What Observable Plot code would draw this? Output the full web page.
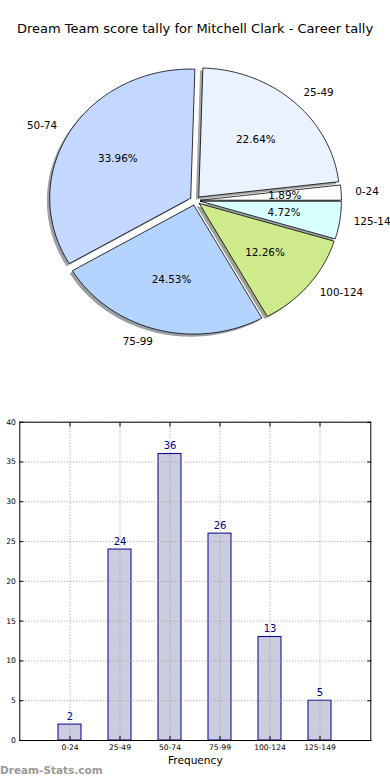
<!DOCTYPE html>
<html><head><meta charset="utf-8">
<script src="https://cdn.jsdelivr.net/npm/d3@7"></script>
<script src="https://cdn.jsdelivr.net/npm/@observablehq/plot@0.6"></script>
<style>
body{margin:0;background:#fff;font-family:"DejaVu Sans",sans-serif;}
#wrap{position:relative;width:390px;height:780px;overflow:hidden;background:#fff;}
#title{position:absolute;top:21px;left:0;width:390px;text-align:center;font-size:13px;color:#000;white-space:nowrap;}
#pie{position:absolute;top:50px;left:0;}
#bar{position:absolute;top:410px;left:0;}
#wm{position:absolute;left:0;top:764px;font-size:10.5px;font-weight:bold;color:#999;white-space:nowrap;}
svg{overflow:visible;}
</style></head><body>
<div id="wrap">
<div id="title">Dream Team score tally for Mitchell Clark - Career tally</div>
<div id="pie"></div>
<div id="bar"></div>
<div id="wm">Dream-Stats.com</div>
</div>
<script>
const categories = ["0-24","25-49","50-74","75-99","100-124","125-149"];
const counts = [2,24,36,26,13,5];
const sliceColors = ["#ffffff","#eaf2ff","#c4d8ff","#b4d4ff","#cfea8b","#daffff"];
const yTicks = [0,5,10,15,20,25,30,35,40];
const xLabel = "Frequency";

const explode = 0.037;
const total = d3.sum(counts);
let acc = 0;
const slices = categories.map((c, i) => {
  const a0 = acc / total * 2 * Math.PI;
  acc += counts[i];
  const a1 = acc / total * 2 * Math.PI;
  const m = (a0 + a1) / 2;
  return {cat: c, i, a0, a1, m, ox: explode * Math.cos(m), oy: explode * Math.sin(m),
          pct: (100 * counts[i] / total).toFixed(2) + "%"};
});
function wedgePoints(s, dx = 0, dy = 0) {
  const n = Math.max(2, Math.ceil((s.a1 - s.a0) / (Math.PI / 180)));
  const cx = s.ox + dx, cy = s.oy + dy;
  const pts = [{x: cx, y: cy}];
  for (let k = 0; k <= n; k++) {
    const a = s.a0 + (s.a1 - s.a0) * k / n;
    pts.push({x: cx + Math.cos(a), y: cy + Math.sin(a)});
  }
  pts.push({x: cx, y: cy});
  return pts;
}
const shadowMarks = slices.map(s => {
  const c = d3.rgb(sliceColors[s.i]);
  return Plot.line(wedgePoints(s, -0.02, -0.02), {x: "x", y: "y", curve: "linear",
    fill: d3.rgb(c.r * 0.3, c.g * 0.3, c.b * 0.3).formatHex(), fillOpacity: 0.5, stroke: "none"});
});
const wedgeMarks = slices.map(s =>
  Plot.line(wedgePoints(s), {x: "x", y: "y", curve: "linear", fill: sliceColors[s.i],
    stroke: "black", strokeWidth: 0.8, strokeLinejoin: "miter"}));
const labelData = slices.map(s => ({cat: s.cat, x: s.ox + 1.1 * Math.cos(s.m), y: s.oy + 1.1 * Math.sin(s.m), right: Math.cos(s.m) > 0}));
const pctData = slices.map(s => ({pct: s.pct, x: s.ox + 0.6 * Math.cos(s.m), y: s.oy + 0.6 * Math.sin(s.m)}));

const pie = Plot.plot({
  width: 390, height: 320, margin: 0,
  style: {fontFamily: "DejaVu Sans", background: "transparent", overflow: "visible"},
  x: {domain: [-194.7 / 141, 195.3 / 141], axis: null},
  y: {domain: [-170 / 129, 150 / 129], axis: null},
  marks: [
    ...shadowMarks,
    ...wedgeMarks,
    Plot.text(labelData.filter(d => d.right), {x: "x", y: "y", text: "cat", textAnchor: "start", fontSize: 10.4, fill: "black"}),
    Plot.text(labelData.filter(d => !d.right), {x: "x", y: "y", text: "cat", textAnchor: "end", fontSize: 10.4, fill: "black"}),
    Plot.text(pctData, {x: "x", y: "y", text: "pct", fontSize: 10.4, fill: "black"})
  ]
});
document.getElementById("pie").append(pie);

const barData = categories.map((c, i) => ({cat: c, n: counts[i]}));
const noLabel = () => "";
const bar = Plot.plot({
  width: 390, height: 370, marginLeft: 19.3, marginRight: 19.7, marginTop: 11.7, marginBottom: 40,
  style: {fontFamily: "DejaVu Sans", fontSize: "7.6px", color: "black", background: "transparent", overflow: "visible"},
  x: {type: "band", domain: categories, paddingInner: 0.54, paddingOuter: 0.78, label: null},
  y: {domain: [0, 40], label: null},
  marks: [
    Plot.barY(barData, {x: "cat", y: "n", fill: "#ccccdf", stroke: "#00008b", strokeWidth: 1}),
    Plot.gridY(yTicks, {stroke: "#999", strokeOpacity: 1, strokeDasharray: "1,2", strokeWidth: 1}),
    Plot.gridX(categories, {stroke: "#999", strokeOpacity: 1, strokeDasharray: "1,2", strokeWidth: 1}),
    Plot.frame({stroke: "black", strokeWidth: 1}),
    Plot.axisY(yTicks, {tickSize: 0, tickPadding: 4, label: null}),
    Plot.axisY(yTicks, {tickSize: -4, tickFormat: noLabel, label: null}),
    Plot.axisY(yTicks, {anchor: "right", tickSize: -4, tickFormat: noLabel, label: null}),
    Plot.axisX(categories, {tickSize: 0, tickPadding: 4, label: null}),
    Plot.axisX(categories, {tickSize: -4, tickFormat: noLabel, label: null}),
    Plot.axisX(categories, {anchor: "top", tickSize: -4, tickFormat: noLabel, label: null}),
    Plot.text(barData, {x: "cat", y: "n", text: d => String(d.n), dy: -8, fill: "#00008b", fontSize: 10}),
    Plot.text([xLabel], {frameAnchor: "bottom", dy: 20, lineAnchor: "middle", fontSize: 10.6, fill: "black"})
  ]
});
document.getElementById("bar").append(bar);
</script>
</body></html>
